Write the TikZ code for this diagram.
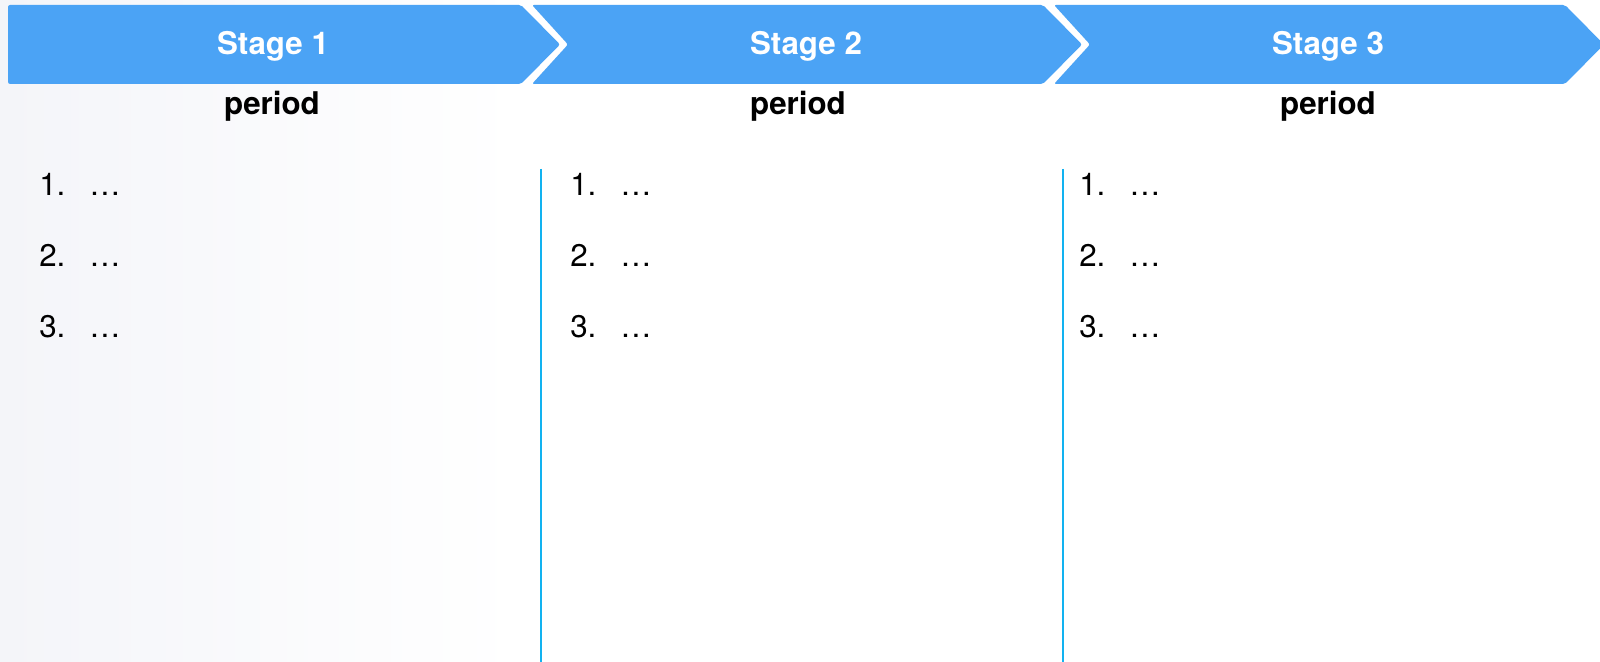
\documentclass[tikz,border=0pt]{standalone}
\usepackage{fontspec}
\setmainfont{TeX Gyre Heros}
\usetikzlibrary{positioning}

\definecolor{banner}{HTML}{4BA3F5}
\definecolor{divider}{HTML}{12B2F0}
\definecolor{paper}{HTML}{F4F5F9}

\begin{document}
\begin{tikzpicture}[x=0.01cm, y=-0.01cm]
					\tikzstyle{stagebox} = [fill=banner, rounded corners=0.6pt]
					\tikzstyle{stagelabel} = [anchor=base, inner sep=0pt, text=white, font=\fontsize{8.9}{10}\selectfont\bfseries]
					\tikzstyle{period} = [anchor=base, inner sep=0pt, font=\fontsize{8.9}{10}\selectfont\bfseries]
					\tikzstyle{item} = [anchor=base west, inner sep=0pt, font=\fontsize{8.9}{10}\selectfont]
					\tikzstyle{divide} = [draw=divider, line width=0.57pt]
					
					% page and faint grey wash on the left
					\useasboundingbox (0, 0) rectangle (1600, 662);
					\fill[white] (0, 0) rectangle (1600, 662);
					\shade[left color=paper, right color=white] (0, 0) rectangle (520, 662);
					
					% the three stage arrows
					\begin{scope}
						\clip (0, 0) rectangle (1600, 662);
						\fill[stagebox] (8, 5) -- (521, 5) -- (560, 44.5) -- (521, 84) -- (8, 84) -- cycle;
						\fill[stagebox] (532, 5) -- (1043, 5) -- (1082, 44.5) -- (1043, 84) -- (532, 84) -- (568, 44.5) -- cycle;
						\fill[stagebox] (1054, 5) -- (1565, 5) -- (1604, 44.5) -- (1565, 84) -- (1054, 84) -- (1090, 44.5) -- cycle;
					\end{scope}
					
					\node[stagelabel] 	at (273, 55) 	(s1) 	{Stage 1};
					\node[stagelabel] 	at (806, 55) 	(s2) 	{Stage 2};
					\node[stagelabel] 	at (1328, 55) 	(s3) 	{Stage 3};
					
					\node[period] 	at (272, 115) 	(p1) 	{period};
					\node[period] 	at (798, 115) 	(p2) 	{period};
					\node[period] 	at (1328, 115) 	(p3) 	{period};
					
					% column dividers
					\draw[divide] (540.5, 169) -- (540.5, 662);
					\draw[divide] (1062.5, 169) -- (1062.5, 662);
					
					% numbered items in each column
					\foreach \col/\x in {1/38.6, 2/569.6, 3/1078.6} {
						\foreach \row/\y in {1/196, 2/267, 3/338} {
							\node[item] at (\x, \y) (c\col r\row) {\makebox[0.5cm][l]{\row.}…};
						}
					}
				\end{tikzpicture}
\end{document}
